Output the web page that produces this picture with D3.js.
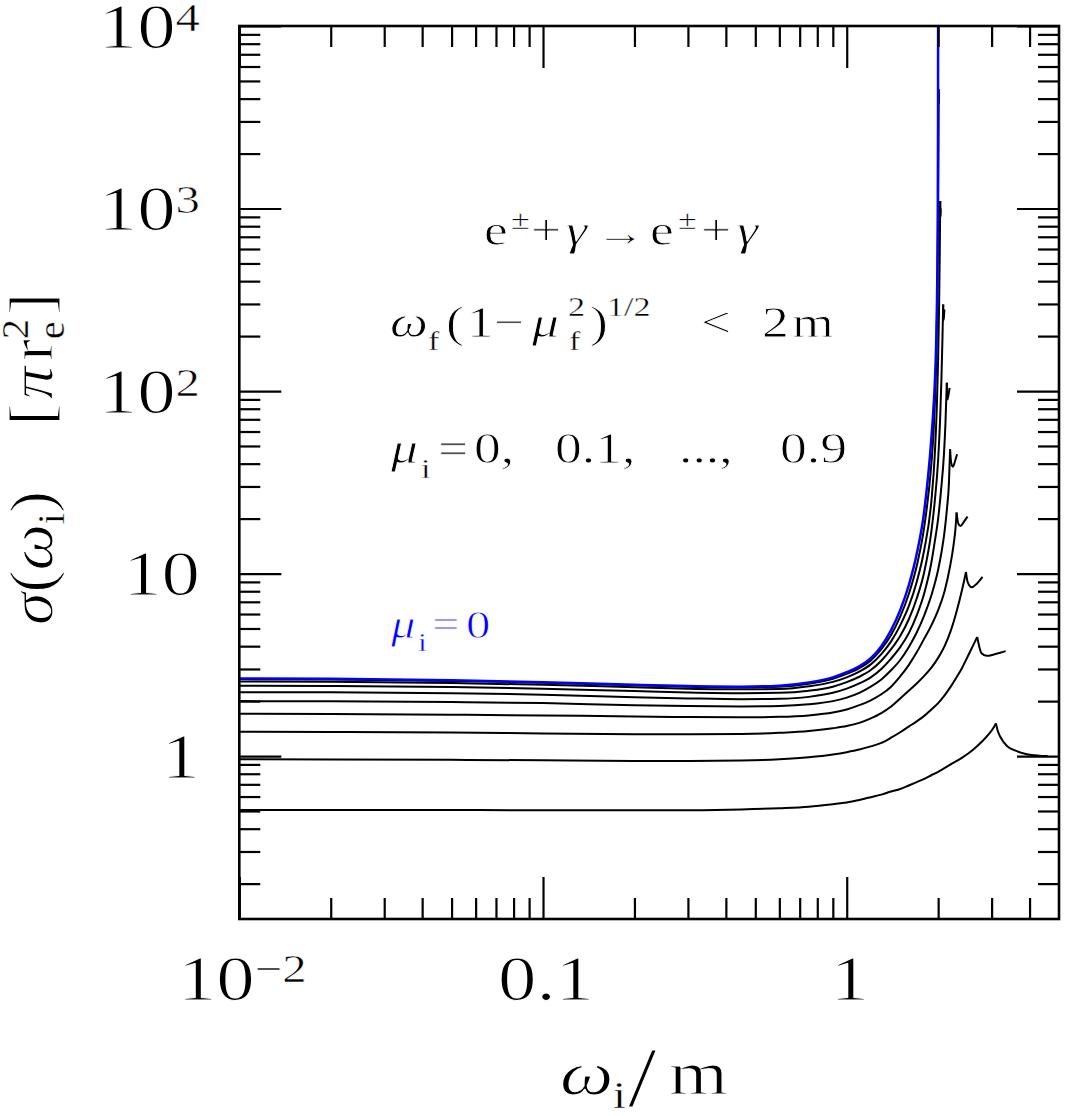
<!DOCTYPE html>
<html>
<head>
<meta charset="utf-8">
<script src="https://cdn.jsdelivr.net/npm/d3@7"></script>
<style>
body { margin: 0; background: #fff; }
svg { display: block; }
text { font-family: "Liberation Serif", "Times New Roman", serif; }
</style>
</head>
<body>
<script>
// cross section sigma(omega_i) in units of pi r_e^2, one curve per mu_i
var muValues = [0, 0.1, 0.2, 0.3, 0.4, 0.5, 0.6, 0.7, 0.8, 0.9];
var xGrid = [0.01, 0.02, 0.05, 0.1, 0.2, 0.3, 0.45, 0.6, 0.75, 0.9, 1.0, 1.1, 1.2, 1.3, 1.4, 1.5, 1.6, 1.7, 1.8, 1.9];

var sigmaMu00 = [2.66, 2.65, 2.60, 2.54, 2.46, 2.42, 2.40, 2.43, 2.53, 2.70, 2.88, 3.10, 3.44, 4.0, 4.9, 6.3, 8.6, 12.8, 22, 55];
var sigmaMu01 = [2.64, 2.63, 2.58, 2.52, 2.44, 2.40, 2.38, 2.40, 2.49, 2.65, 2.82, 3.03, 3.34, 3.85, 4.6, 5.8, 7.7, 11, 18, 40];
var sigmaMu02 = [2.56, 2.55, 2.51, 2.46, 2.38, 2.34, 2.32, 2.33, 2.41, 2.55, 2.70, 2.90, 3.18, 3.62, 4.25, 5.2, 6.6, 9.0, 13.5, 25];
var sigmaMu03 = [2.43, 2.42, 2.39, 2.34, 2.27, 2.23, 2.21, 2.22, 2.28, 2.40, 2.54, 2.72, 2.96, 3.33, 3.85, 4.55, 5.6, 7.3, 10.2, 17];
var sigmaMu04 = [2.24, 2.235, 2.21, 2.17, 2.10, 2.07, 2.05, 2.06, 2.11, 2.22, 2.34, 2.50, 2.70, 3.0, 3.42, 3.95, 4.7, 5.9, 7.8, 11.5];
var sigmaMu05 = [2.0, 1.995, 1.975, 1.95, 1.90, 1.88, 1.87, 1.88, 1.92, 2.0, 2.09, 2.22, 2.40, 2.63, 2.95, 3.36, 3.95, 4.75, 5.9, 7.6];
var sigmaMu06 = [1.707, 1.70, 1.685, 1.67, 1.646, 1.635, 1.63, 1.64, 1.67, 1.73, 1.80, 1.90, 2.02, 2.18, 2.40, 2.73, 3.15, 3.7, 4.4, 5.2];
var sigmaMu07 = [1.36, 1.355, 1.345, 1.33, 1.317, 1.315, 1.32, 1.34, 1.37, 1.42, 1.46, 1.52, 1.61, 1.72, 1.87, 2.07, 2.28, 2.5, 2.75, 3.05];
var sigmaMu08 = [0.96, 0.958, 0.953, 0.948, 0.94, 0.94, 0.945, 0.96, 0.985, 1.02, 1.05, 1.085, 1.13, 1.18, 1.26, 1.35, 1.45, 1.55, 1.66, 1.80];
var sigmaMu09 = [0.507, 0.507, 0.506, 0.505, 0.504, 0.505, 0.51, 0.518, 0.528, 0.545, 0.557, 0.575, 0.595, 0.615, 0.64, 0.66, 0.69, 0.72, 0.75, 0.785];

// steep part up to the cusp (last point = cusp)
var nearMu00 = [[1.93, 80], [1.95, 110], [1.975, 220], [1.989, 500], [1.9945, 1000], [1.998, 2750], [1.99945, 10000], [1.9998, 30000]];
var nearMu01 = [[1.93, 58], [1.95, 85], [1.975, 170], [1.99, 400], [2.0, 1000], [2.005, 2200], [2.0085, 4500]];
var nearMu02 = [[1.95, 45], [1.98, 82], [2.0, 150], [2.015, 300], [2.025, 580], [2.032, 1100]];
var nearMu03 = [[1.95, 25], [2.0, 42], [2.03, 70], [2.05, 115], [2.065, 185], [2.078, 298]];
var nearMu04 = [[1.95, 15], [2.0, 20], [2.05, 30], [2.09, 45], [2.115, 68], [2.136, 111]];
var nearMu05 = [[2.0, 10.5], [2.05, 13], [2.1, 17], [2.14, 23], [2.17, 31], [2.19, 48]];
var nearMu06 = [[2.0, 6.3], [2.1, 8.0], [2.19, 11], [2.25, 14.5], [2.28, 17.5], [2.30, 21.6]];
var nearMu07 = [[2.0, 3.45], [2.1, 4.0], [2.2, 4.85], [2.3, 6.2], [2.4, 8.2], [2.47, 10.2]];
var nearMu08 = [[2.0, 1.95], [2.1, 2.15], [2.2, 2.4], [2.3, 2.7], [2.4, 3.05], [2.5, 3.5], [2.6, 4.0], [2.69, 4.49]];
var nearMu09 = [[2.0, 0.82], [2.2, 0.90], [2.4, 0.98], [2.6, 1.08], [2.8, 1.21], [2.95, 1.33], [3.05, 1.44], [3.10, 1.51]];

// after the cusp
var tailMu00 = [];
var tailMu01 = [[2.0085, 4500], [2.0092, 3800], [2.0101, 4200]];
var tailMu02 = [[2.032, 1100], [2.035, 900], [2.038, 930], [2.041, 1000]];
var tailMu03 = [[2.078, 298], [2.083, 245], [2.09, 255], [2.097, 280]];
var tailMu04 = [[2.136, 111], [2.145, 90], [2.16, 94], [2.182, 104]];
var tailMu05 = [[2.19, 48], [2.21, 40], [2.24, 38.5], [2.27, 41], [2.309, 45]];
var tailMu06 = [[2.30, 21.6], [2.33, 18.8], [2.37, 18.2], [2.43, 19.2], [2.50, 20.5]];
var tailMu07 = [[2.47, 10.2], [2.50, 9.0], [2.58, 8.4], [2.68, 8.8], [2.80, 9.6]];
var tailMu08 = [[2.69, 4.49], [2.74, 3.9], [2.78, 3.66], [2.89, 3.54], [3.05, 3.6], [3.2, 3.68], [3.334, 3.76]];
var tailMu09 = [[3.10, 1.51], [3.14, 1.38], [3.2, 1.28], [3.37, 1.136], [3.6, 1.07], [3.92, 1.023], [4.3, 1.005], [4.588, 1.0]];

var sigmaRows = [sigmaMu00, sigmaMu01, sigmaMu02, sigmaMu03, sigmaMu04, sigmaMu05, sigmaMu06, sigmaMu07, sigmaMu08, sigmaMu09];
var nearRows = [nearMu00, nearMu01, nearMu02, nearMu03, nearMu04, nearMu05, nearMu06, nearMu07, nearMu08, nearMu09];
var tailRows = [tailMu00, tailMu01, tailMu02, tailMu03, tailMu04, tailMu05, tailMu06, tailMu07, tailMu08, tailMu09];

// ticks
var majorX = [0.01, 0.1, 1];
var minorX = [0.02, 0.03, 0.04, 0.05, 0.06, 0.07, 0.08, 0.09, 0.2, 0.3, 0.4, 0.5, 0.6, 0.7, 0.8, 0.9, 2, 3, 4];
var majorY = [1, 10, 100, 1000, 10000];
var minorY = [0.2, 0.3, 0.4, 0.5, 0.6, 0.7, 0.8, 0.9, 2, 3, 4, 5, 6, 7, 8, 9, 20, 30, 40, 50, 60, 70, 80, 90,
	200, 300, 400, 500, 600, 700, 800, 900, 2000, 3000, 4000, 5000, 6000, 7000, 8000, 9000];
var xTickLabels = [["10", "\u22122"], ["0.1", ""], ["1", ""]];
var yTickLabels = [["1", ""], ["10", ""], ["10", "2"], ["10", "3"], ["10", "4"]];

var SX = 1.22; // glyphs in the figure are wide
var BLUE = "#0000ff";

var plotL = 239.3, plotR = 1059, plotT = 26, plotB = 919;
var svg = d3.select("body").append("svg").attr("width", 1067).attr("height", 1116);

var x = d3.scaleLog().domain([0.01, 5]).range([plotL, plotR]);
var y = d3.scaleLog().domain([0.128, 10000]).range([plotB, plotT]);

svg.append("clipPath").attr("id", "plotclip")
	.append("rect").attr("x", plotL).attr("y", plotT).attr("width", plotR - plotL).attr("height", plotB - plotT);

var line = d3.line()
	.x(function(d) { return x(d[0]); })
	.y(function(d) { return y(d[1]); })
	.curve(d3.curveMonotoneX);

var curves = svg.append("g").attr("clip-path", "url(#plotclip)");
// black ones first, mu=0 in blue on top
for (var i = muValues.length - 1; i >= 0; i--) {
	var rise = xGrid.map(function(xv, j) { return [xv, sigmaRows[i][j]]; }).concat(nearRows[i]);
	var col = i == 0 ? BLUE : "#000";
	var w = i == 0 ? 2.5 : 2;
	curves.append("path").attr("d", line(rise))
		.attr("fill", "none").attr("stroke", col).attr("stroke-width", w);
	if (tailRows[i].length) {
		curves.append("path").attr("d", line(tailRows[i]))
			.attr("fill", "none").attr("stroke", col).attr("stroke-width", w);
	}
}

function ticks(axis, len, tr) {
	var g = svg.append("g").attr("transform", tr)
		.call(axis.tickSize(-len).tickSizeOuter(0).tickFormat(""));
	g.select(".domain").remove();
	g.selectAll("line").attr("stroke", "#000").attr("stroke-width", 2.2);
}
ticks(d3.axisBottom(x).tickValues(majorX), 42, "translate(0," + plotB + ")");
ticks(d3.axisBottom(x).tickValues(minorX), 21, "translate(0," + plotB + ")");
ticks(d3.axisTop(x).tickValues(majorX), 42, "translate(0," + plotT + ")");
ticks(d3.axisTop(x).tickValues(minorX), 21, "translate(0," + plotT + ")");
ticks(d3.axisLeft(y).tickValues(majorY), 42, "translate(" + plotL + ",0)");
ticks(d3.axisLeft(y).tickValues(minorY), 21, "translate(" + plotL + ",0)");
ticks(d3.axisRight(y).tickValues(majorY), 42, "translate(" + plotR + ",0)");
ticks(d3.axisRight(y).tickValues(minorY), 21, "translate(" + plotR + ",0)");

svg.append("rect").attr("x", plotL).attr("y", plotT).attr("width", plotR - plotL).attr("height", plotB - plotT)
	.attr("fill", "none").attr("stroke", "#000").attr("stroke-width", 2.6);

// thin the serif glyphs a little (the figure uses a light font)
function thin(sel, w) {
	return sel.attr("stroke", w > 0 ? "#fff" : "none").attr("stroke-width", w).attr("stroke-linejoin", "round");
}

// tick labels
yTickLabels.forEach(function(l, i) {
	var t = svg.append("text")
		.attr("transform", "translate(200," + (y(majorY[i]) + 21.5) + ") scale(" + SX + ",1)")
		.attr("text-anchor", "end").attr("font-size", 63).attr("fill", "#000");
	thin(t.append("tspan").text(l[0]), 1.1);
	if (l[1]) thin(t.append("tspan").attr("dy", -17).attr("font-size", 40).text(l[1]), 0.6);
});
xTickLabels.forEach(function(l, i) {
	var t = svg.append("text")
		.attr("transform", "translate(" + (x(majorX[i]) + 3) + ",1000) scale(" + SX + ",1)")
		.attr("text-anchor", "middle").attr("font-size", 63).attr("fill", "#000");
	thin(t.append("tspan").text(l[0]), 1.1);
	if (l[1]) thin(t.append("tspan").attr("dy", -18).attr("font-size", 40).text(l[1]), 0.6);
});

function piece(str, X, Y, size, italic, fill) {
	var t = svg.append("text")
		.attr("transform", "translate(" + X + "," + Y + ") scale(" + SX + ",1)")
		.attr("font-size", size)
		.attr("font-style", italic ? "italic" : null)
		.attr("fill", fill || "#000")
		.text(str);
	thin(t, size >= 60 ? 1.1 : size >= 40 ? 0.8 : 0.4);
	return t;
}

// x axis title
piece("\u03c9", 560, 1094, 62, true);
piece("i", 613, 1108, 38);
piece("/", 628, 1106, 84);
piece("m", 669, 1094, 62);

// y axis title (rotated)
var yt = svg.append("text").attr("transform", "translate(52,459) rotate(-90) scale(1.06,1)")
	.attr("text-anchor", "middle").attr("font-size", 62).attr("fill", "#000");
function ySpan(str, o) {
	var s = yt.append("tspan").text(str);
	for (var k in o) s.attr(k, o[k]);
	thin(s, o["font-size"] ? 0.4 : 1.1);
	return s;
}
ySpan("\u03c3", {"font-style": "italic"});
ySpan("(", {});
ySpan("\u03c9", {"font-style": "italic"});
ySpan("i", {"font-size": 38, "dy": 12});
ySpan(")", {"dy": -12});
ySpan("[", {"dx": 62});
ySpan("\u03c0", {"dx": 4, "font-style": "italic"});
ySpan("r", {"dx": 5});
ySpan("2", {"font-size": 38, "dy": -24});
ySpan("e", {"font-size": 38, "dx": -19, "dy": 36});
ySpan("]", {"dx": 6, "dy": -12});

// line 1: e+ gamma -> e+ gamma
piece("e", 484, 245, 44);
piece("\u00b1", 511, 229, 28);
piece("+", 531, 245, 44);
piece("\u03b3", 566, 245, 44, true);
piece("\u2192", 596, 246, 40);
piece("e", 650, 245, 44);
piece("\u00b1", 678, 229, 28);
piece("+", 701, 245, 44);
piece("\u03b3", 737, 245, 44, true);

// line 2
piece("\u03c9", 390, 337, 44, true);
piece("f", 428, 350, 28);
piece("(", 446, 337, 44);
piece("1", 467, 337, 44);
piece("\u2212", 494, 337, 44);
piece("\u03bc", 532, 337, 44, true);
piece("2", 568, 316, 28);
piece("f", 569, 350, 28);
piece(")", 590, 337, 44);
piece("1/2", 607, 316, 28);
piece("<", 701, 337, 44);
piece("2", 762, 337, 44);
piece("m", 792, 337, 44);

// line 3
piece("\u03bc", 391, 463, 44, true);
piece("i", 421, 478, 28);
piece("=", 438, 463, 44);
piece("0,", 474, 463, 44);
piece("0.1,", 555, 463, 44);
piece("...,", 679, 463, 44);
piece("0.9", 780, 463, 44);

// label of the blue curve
piece("\u03bc", 391, 638, 40, true, BLUE);
piece("i", 418, 651, 26, false, BLUE);
piece("=", 432, 638, 40, false, BLUE);
piece("0", 466, 638, 40, false, BLUE);
</script>
</body>
</html>
